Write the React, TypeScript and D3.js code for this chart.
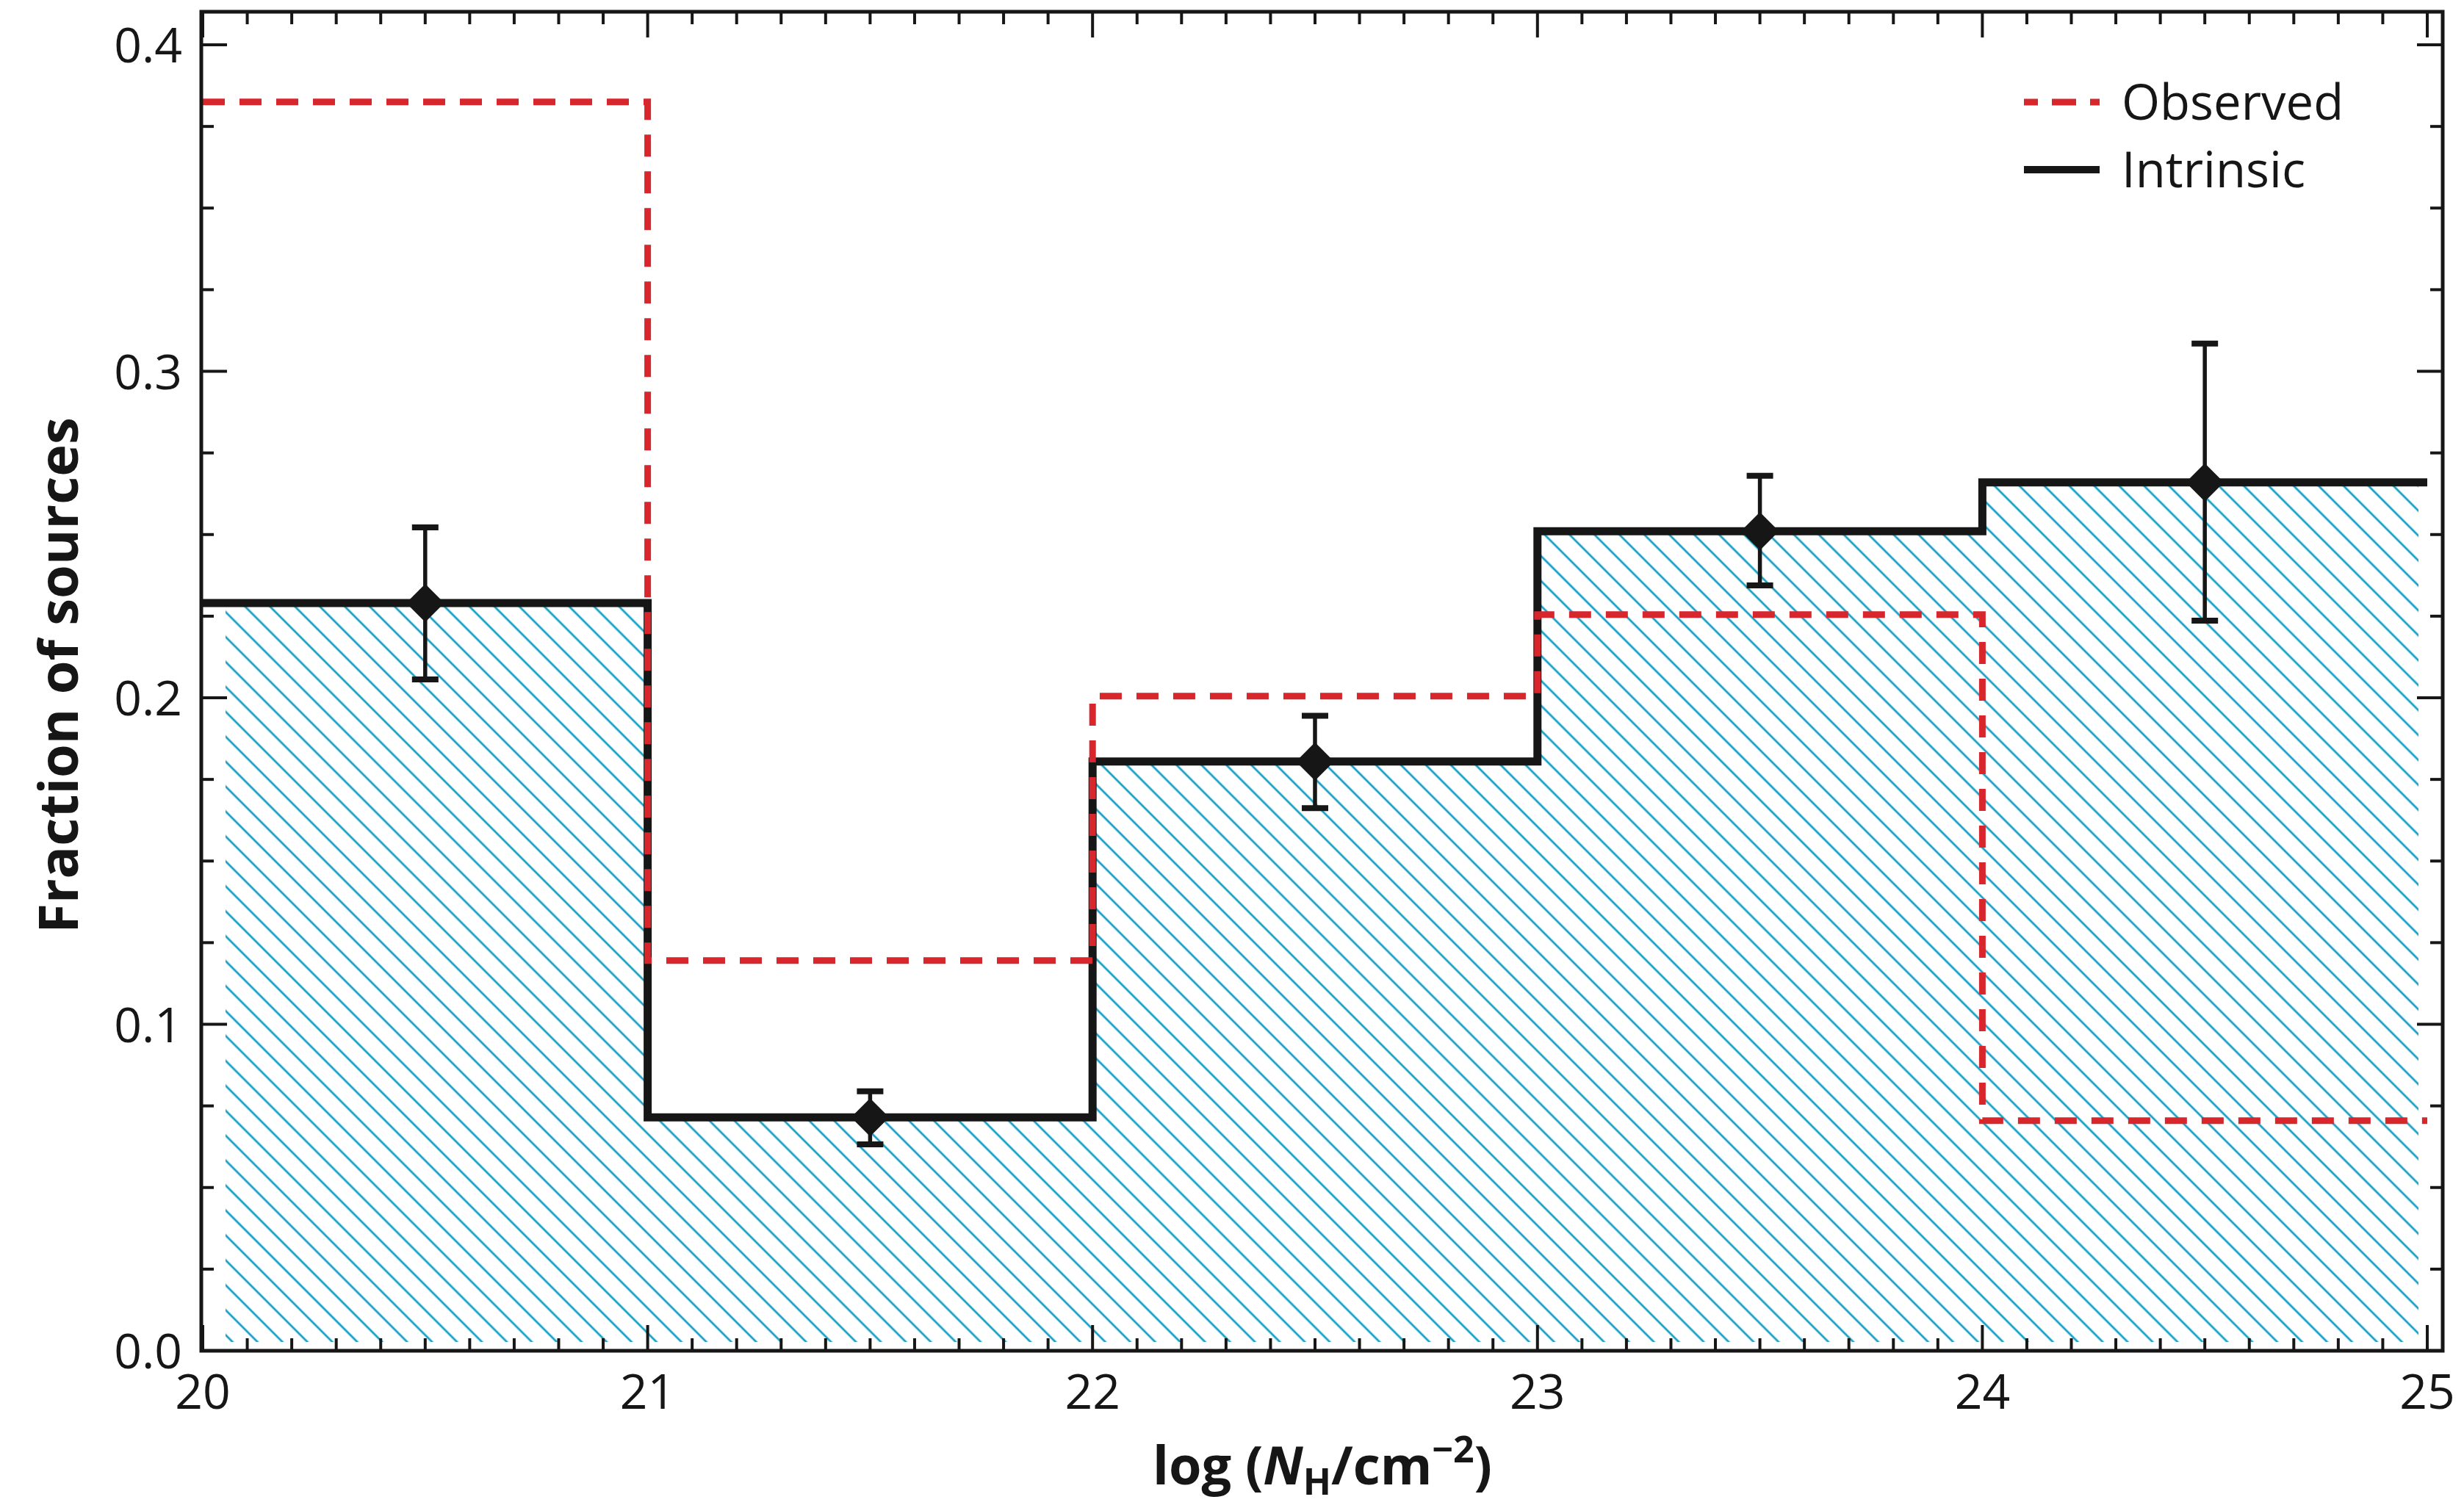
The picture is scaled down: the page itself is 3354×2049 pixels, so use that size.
import React from "react";
import * as d3 from "d3";

// ---- data ----
const binEdges = [20, 21, 22, 23, 24, 25];
const intrinsic = [0.229, 0.0715, 0.1805, 0.251, 0.266];
const observed = [0.3825, 0.1195, 0.2005, 0.2255, 0.0705];
const pointX = [20.5, 21.5, 22.5, 23.5, 24.5];
const errLow = [0.2056, 0.0632, 0.1662, 0.2344, 0.2236];
const errHigh = [0.2522, 0.0795, 0.1945, 0.268, 0.3085];
const xTicks = [20, 21, 22, 23, 24, 25];
const yTicks = [0.0, 0.1, 0.2, 0.3, 0.4];
const legendLabels = ["Observed", "Intrinsic"];

const W = 3354;
const H = 2049;
const frame = { left: 274, right: 3325, top: 16, bottom: 1839 };

const RED = "#d7262c";
const HATCH = "#169fc4";
const INK = "#161616";
const FONT = "'Open Sans', 'Noto Sans', sans-serif";

export default function App() {
  const x = d3.scaleLinear().domain([19.9967, 25.0347]).range([frame.left, frame.right]);
  const y = d3.scaleLinear().domain([0, 0.41013]).range([frame.bottom, frame.top]);

  const stepPts = (vals: number[]) =>
    binEdges.map((e, i) => [e, vals[Math.min(i, vals.length - 1)]] as [number, number]);

  const line = d3
    .line<[number, number]>()
    .x((d) => x(d[0]))
    .y((d) => y(d[1]))
    .curve(d3.curveStepAfter);

  const area = d3
    .area<[number, number]>()
    .x((d) => x(d[0]))
    .y0(y(0))
    .y1((d) => y(d[1]))
    .curve(d3.curveStepAfter);

  const intrPts = stepPts(intrinsic);
  const obsPts = stepPts(observed);

  const xMinor = d3.range(200, 251).map((v) => v / 10);
  const yMinor = d3.range(0, 17).map((v) => v * 0.025);

  const majLen = 35;
  const minLen = 17;
  const isMajorX = (v: number) => Math.abs(v - Math.round(v)) < 1e-6;
  const isMajorY = (v: number) => Math.abs(v * 10 - Math.round(v * 10)) < 1e-6;

  const hatchClip = {
    x0: x(20) + 31,
    x1: x(25) - 12,
    y1: y(0) - 12,
  };

  return (
    <svg
      width={W}
      height={H}
      style={{ position: "absolute", left: 0, top: 0, background: "#fff" }}
      fontFamily={FONT}
    >
      <defs>
        <pattern
          id="hatch"
          patternUnits="userSpaceOnUse"
          width={24}
          height={24}
          patternTransform="rotate(-45)"
        >
          <line x1={12} y1={-2} x2={12} y2={26} stroke={HATCH} strokeWidth={2.8} />
        </pattern>
        <clipPath id="hclip">
          <rect
            x={hatchClip.x0}
            y={0}
            width={hatchClip.x1 - hatchClip.x0}
            height={hatchClip.y1}
          />
        </clipPath>
      </defs>

      {/* hatch fill under intrinsic */}
      <path d={area(intrPts) || ""} fill="url(#hatch)" clipPath="url(#hclip)" />

      {/* intrinsic step line */}
      <path d={line(intrPts) || ""} fill="none" stroke={INK} strokeWidth={11} strokeLinejoin="miter" />

      {/* observed dashed step */}
      <path
        d={line(obsPts) || ""}
        fill="none"
        stroke={RED}
        strokeWidth={9}
        strokeDasharray="30 20"
      />

      {/* error bars + diamonds */}
      {pointX.map((px, i) => {
        const cx = x(px);
        const cy = y(intrinsic[i]);
        const yt = y(errHigh[i]);
        const yb = y(errLow[i]);
        const s = 26;
        return (
          <g key={i}>
            <line x1={cx} x2={cx} y1={yt} y2={yb} stroke={INK} strokeWidth={5.5} />
            <line x1={cx - 18} x2={cx + 18} y1={yt} y2={yt} stroke={INK} strokeWidth={8} />
            <line x1={cx - 18} x2={cx + 18} y1={yb} y2={yb} stroke={INK} strokeWidth={8} />
            <path
              d={`M${cx},${cy - s}L${cx + s},${cy}L${cx},${cy + s}L${cx - s},${cy}Z`}
              fill={INK}
            />
          </g>
        );
      })}

      {/* ticks */}
      <g stroke={INK} strokeWidth={4}>
        {xMinor.map((v, i) => {
          const len = isMajorX(v) ? majLen : minLen;
          const px = x(v);
          return (
            <g key={"xt" + i}>
              <line x1={px} x2={px} y1={frame.bottom} y2={frame.bottom - len} />
              <line x1={px} x2={px} y1={frame.top} y2={frame.top + len} />
            </g>
          );
        })}
        {yMinor.map((v, i) => {
          const len = isMajorY(v) ? majLen : minLen;
          const py = y(v);
          return (
            <g key={"yt" + i}>
              <line x1={frame.left} x2={frame.left + len} y1={py} y2={py} />
              <line x1={frame.right} x2={frame.right - len} y1={py} y2={py} />
            </g>
          );
        })}
      </g>

      {/* frame */}
      <rect
        x={frame.left}
        y={frame.top}
        width={frame.right - frame.left}
        height={frame.bottom - frame.top}
        fill="none"
        stroke={INK}
        strokeWidth={5}
      />

      {/* tick labels */}
      <g fill={INK} fontSize={66}>
        {xTicks.map((v) => (
          <text key={"xl" + v} x={x(v)} y={1918} textAnchor="middle">
            {d3.format("d")(v)}
          </text>
        ))}
        {yTicks.map((v) => (
          <text key={"yl" + v} x={248} y={y(v) + 24} textAnchor="end">
            {d3.format(".1f")(v)}
          </text>
        ))}
      </g>

      {/* axis titles */}
      <text x={1800} y={2021} textAnchor="middle" fontSize={72} fontWeight="bold" fill={INK}>
        log (<tspan fontStyle="italic">N</tspan>
        <tspan fontSize={50} dy={14}>H</tspan>
        <tspan dy={-14}>/cm</tspan>
        <tspan fontSize={50} dy={-30}>−2</tspan>
        <tspan dy={30}>)</tspan>
      </text>
      <text
        transform={`translate(106,${(frame.top + frame.bottom) / 2 - 8}) rotate(-90)`}
        textAnchor="middle"
        fontSize={74}
        fontWeight="bold"
        fill={INK}
      >
        Fraction of sources
      </text>

      {/* legend */}
      <g>
        <line x1={2755} x2={2858} y1={139} y2={139} stroke={RED} strokeWidth={9} strokeDasharray="19 19 33 19 19" />
        <line x1={2755} x2={2858} y1={231} y2={231} stroke={INK} strokeWidth={10} />
        <text x={2888} y={163} fontSize={67} fill={INK}>{legendLabels[0]}</text>
        <text x={2888} y={255} fontSize={67} fill={INK}>{legendLabels[1]}</text>
      </g>
    </svg>
  );
}
